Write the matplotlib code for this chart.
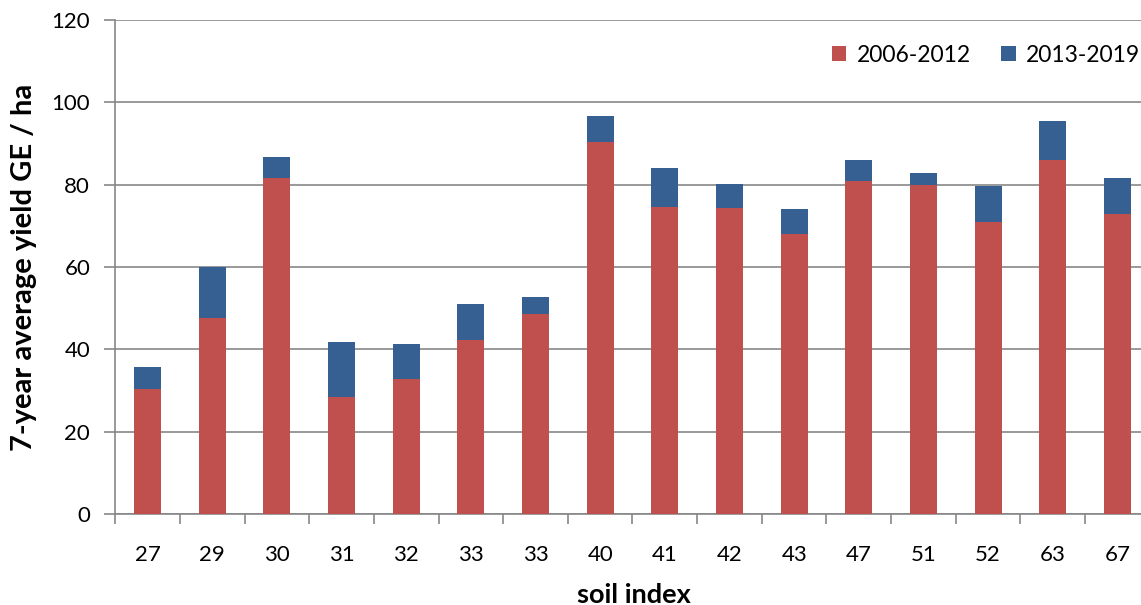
import matplotlib
matplotlib.use("Agg")
import matplotlib.pyplot as plt
import numpy as np

# Soil index categories (one bar per site)
soil_index = ["27", "29", "30", "31", "32", "33", "33", "40",
              "41", "42", "43", "47", "51", "52", "63", "67"]

# 7-year average yield (GE / ha), 2006-2012
yield_2006_2012 = [30.3, 47.6, 81.6, 28.4, 32.8, 42.3, 48.5, 90.3,
                   74.5, 74.3, 68.0, 80.8, 79.9, 70.9, 85.9, 72.9]
# Increase reached in 2013-2019 (stacked on top)
yield_2013_2019 = [5.4, 12.3, 5.1, 13.3, 8.5, 8.7, 4.2, 6.5,
                   9.5, 5.8, 6.0, 5.1, 2.9, 8.7, 9.5, 8.7]

y_ticks = [0, 20, 40, 60, 80, 100, 120]

RED = "#C0504D"
BLUE = "#376092"
GRID = "#878787"

plt.rcParams["font.family"] = ["Lato", "DejaVu Sans"]

W, H = 1141, 605
fig = plt.figure(figsize=(W / 100, H / 100), dpi=100)
left, right, bottom, top = 115.2, 1149.8, 514, 20
ax = fig.add_axes([left / W, 1 - bottom / H, (right - left) / W, (bottom - top) / H])

x = np.arange(len(soil_index))
ax.bar(x, yield_2006_2012, width=0.42, color=RED, label="2006-2012", zorder=3)
ax.bar(x, yield_2013_2019, width=0.42, bottom=yield_2006_2012, color=BLUE,
       label="2013-2019", zorder=3)

ax.set_xlim(-0.5, len(soil_index) - 0.5)
ax.set_ylim(0, 120)
ax.set_yticks(y_ticks)
ax.yaxis.grid(True, color=GRID, linewidth=1.2, zorder=0)
ax.set_axisbelow(True)

for s in ["top", "right"]:
    ax.spines[s].set_visible(False)
for s in ["left", "bottom"]:
    ax.spines[s].set_color(GRID)
    ax.spines[s].set_linewidth(1.2)

# Category boundaries carry the tick marks, labels sit at bar centres
ax.set_xticks(np.arange(-0.5, len(soil_index)), minor=False)
ax.set_xticklabels([])
ax.set_xticks(x, minor=True)
ax.set_xticklabels(soil_index, minor=True)
ax.tick_params(axis="x", which="major", length=7, width=1.2, color=GRID, direction="out")
ax.tick_params(axis="x", which="minor", length=0, pad=22, labelsize=16)
ax.tick_params(axis="y", length=8, width=1.2, color=GRID, direction="out",
               labelsize=16, pad=10)

ax.set_ylabel("7-year average yield GE / ha", fontsize=21, fontweight="bold")
ax.yaxis.set_label_coords(24 / (right - left) - left / (right - left), 0.5)
ax.set_xlabel("soil index", fontsize=19.5, fontweight="bold")
ax.xaxis.set_label_coords(0.5 * (572 + 695) / (right - left) - left / (right - left),
                          -(595 - bottom) / (bottom - top))
ax.xaxis.label.set_va("center")
ax.yaxis.label.set_va("center")

leg = ax.legend(loc="center right",
                bbox_to_anchor=((1140 - left) / (right - left), 1 - (55 - top) / (bottom - top)),
                ncol=2, frameon=False, fontsize=16.5, handlelength=0.65, handleheight=0.65,
                handletextpad=0.45, columnspacing=1.3, borderaxespad=0, borderpad=0)

fig.savefig("out.png", dpi=100)
